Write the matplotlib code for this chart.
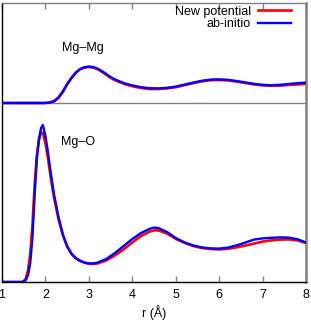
#!/usr/bin/env python3
"""plot.py — Mg-Mg / Mg-O g(r): new potential vs ab-initio (gnuplot-like look)."""
import numpy as np
import matplotlib
matplotlib.use("Agg")
import matplotlib.pyplot as plt

plt.rcParams["font.family"] = ["Liberation Sans", "DejaVu Sans"]

# --- data ---
# Mg-Mg, drawn shifted up by MGMG_OFFSET
r_mgmg = [1.0, 2.0, 2.1, 2.2, 2.3, 2.4, 2.5, 2.6, 2.7, 2.8, 2.9, 3.0, 3.1, 3.2,
          3.3, 3.4, 3.5, 3.6, 3.8, 4.0, 4.2, 4.4, 4.6, 4.8, 5.0, 5.2, 5.4, 5.6,
          5.8, 6.0, 6.2, 6.4, 6.6, 6.8, 7.0, 7.2, 7.4, 7.6, 7.8, 8.0]
mgmg_ab = [0, 0, 0.02, 0.08, 0.25, 0.55, 0.93, 1.25, 1.52, 1.70, 1.79, 1.82,
           1.80, 1.72, 1.60, 1.45, 1.30, 1.18, 1.00, 0.88, 0.79, 0.74, 0.73,
           0.76, 0.82, 0.92, 1.02, 1.11, 1.17, 1.18, 1.16, 1.10, 1.03, 0.96,
           0.91, 0.89, 0.91, 0.95, 0.99, 1.02]
mgmg_new = [0, 0, 0.03, 0.10, 0.28, 0.58, 0.95, 1.26, 1.52, 1.69, 1.77, 1.80,
            1.77, 1.69, 1.56, 1.41, 1.26, 1.14, 0.96, 0.84, 0.75, 0.70, 0.70,
            0.73, 0.79, 0.89, 0.99, 1.08, 1.14, 1.15, 1.13, 1.07, 1.00, 0.93,
            0.88, 0.86, 0.87, 0.90, 0.93, 0.95]

# Mg-O
r_mgo = [1.0, 1.45, 1.5, 1.55, 1.6, 1.65, 1.7, 1.75, 1.8, 1.85, 1.9, 1.94, 2.0,
         2.05, 2.1, 2.15, 2.2, 2.3, 2.4, 2.5, 2.6, 2.7, 2.8, 2.9, 3.0, 3.1, 3.2,
         3.4, 3.6, 3.8, 4.0, 4.2, 4.4, 4.5, 4.6, 4.8, 5.0, 5.2, 5.4, 5.6, 5.8,
         6.0, 6.2, 6.4, 6.6, 6.8, 7.0, 7.2, 7.4, 7.6, 7.8, 8.0]
mgo_ab = [0, 0, 0.02, 0.10, 0.35, 0.95, 2.2, 4.3, 6.1, 7.15, 7.7, 7.85, 7.3,
          6.6, 5.8, 5.05, 4.35, 3.25, 2.38, 1.78, 1.40, 1.18, 1.05, 0.97, 0.93,
          0.93, 0.97, 1.15, 1.45, 1.80, 2.15, 2.45, 2.66, 2.72, 2.70, 2.50,
          2.20, 1.98, 1.83, 1.73, 1.68, 1.67, 1.72, 1.83, 1.97, 2.12, 2.18,
          2.21, 2.23, 2.22, 2.14, 1.98]
mgo_new = [0, 0, 0.03, 0.18, 0.60, 1.40, 2.8, 4.8, 6.3, 7.1, 7.48, 7.45, 6.95,
           6.3, 5.55, 4.85, 4.2, 3.15, 2.35, 1.78, 1.42, 1.20, 1.06, 0.97, 0.91,
           0.90, 0.93, 1.08, 1.33, 1.63, 1.98, 2.30, 2.52, 2.58, 2.58, 2.42,
           2.16, 1.96, 1.80, 1.70, 1.65, 1.63, 1.66, 1.73, 1.82, 1.92, 2.02,
           2.08, 2.12, 2.13, 2.08, 1.95]

MGMG_OFFSET = 8.95
x_ticks = [1, 2, 3, 4, 5, 6, 7, 8]

RED = "#ff0000"
BLUE = "#0000ff"
GREY = "#808080"

fig = plt.figure(figsize=(3.11, 3.21), dpi=100)
ax = fig.add_axes([2 / 311, 1 - 282 / 321, 304 / 311, 279 / 321])

ax.axhline(MGMG_OFFSET, color=GREY, lw=1.0, zorder=1)

off_new = np.asarray(mgmg_new) + MGMG_OFFSET
off_ab = np.asarray(mgmg_ab) + MGMG_OFFSET
ax.plot(r_mgmg, off_new, color=RED, lw=1.9, zorder=2, label="New potential")
ax.plot(r_mgmg, off_ab, color=BLUE, lw=1.7, zorder=3, label="ab-initio")
ax.plot(r_mgo, mgo_new, color=RED, lw=1.9, zorder=2)
ax.plot(r_mgo, mgo_ab, color=BLUE, lw=1.7, zorder=3)

ax.text(2.87, 11.7, "Mg\u2013Mg", fontsize=9, ha="center", va="center")
ax.text(2.75, 7.0, "Mg\u2013O", fontsize=9, ha="center", va="center")

ax.set_xlim(1, 8)
ax.set_ylim(0, 13.95)
ax.set_xticks(x_ticks)
ax.set_yticks([])
ax.tick_params(axis="x", direction="in", top=True, length=4, width=1,
               color=GREY, labelsize=9, pad=5)
ax.set_xlabel("r (\u00c5)", fontsize=9, labelpad=3)

for side in ("left", "bottom"):
    ax.spines[side].set_color("black")
    ax.spines[side].set_linewidth(1.0)
for side in ("top", "right"):
    ax.spines[side].set_color(GREY)
ax.spines["top"].set_linewidth(1.0)
ax.spines["right"].set_linewidth(1.8)

leg = ax.legend(loc="upper right", bbox_to_anchor=(0.952, 0.99), frameon=False,
                markerfirst=False, fontsize=9, handlelength=2.7,
                handletextpad=0.55, labelspacing=0.05, borderpad=0,
                borderaxespad=0)
leg._legend_box.align = "right"

fig.savefig("out.png", dpi=100)
